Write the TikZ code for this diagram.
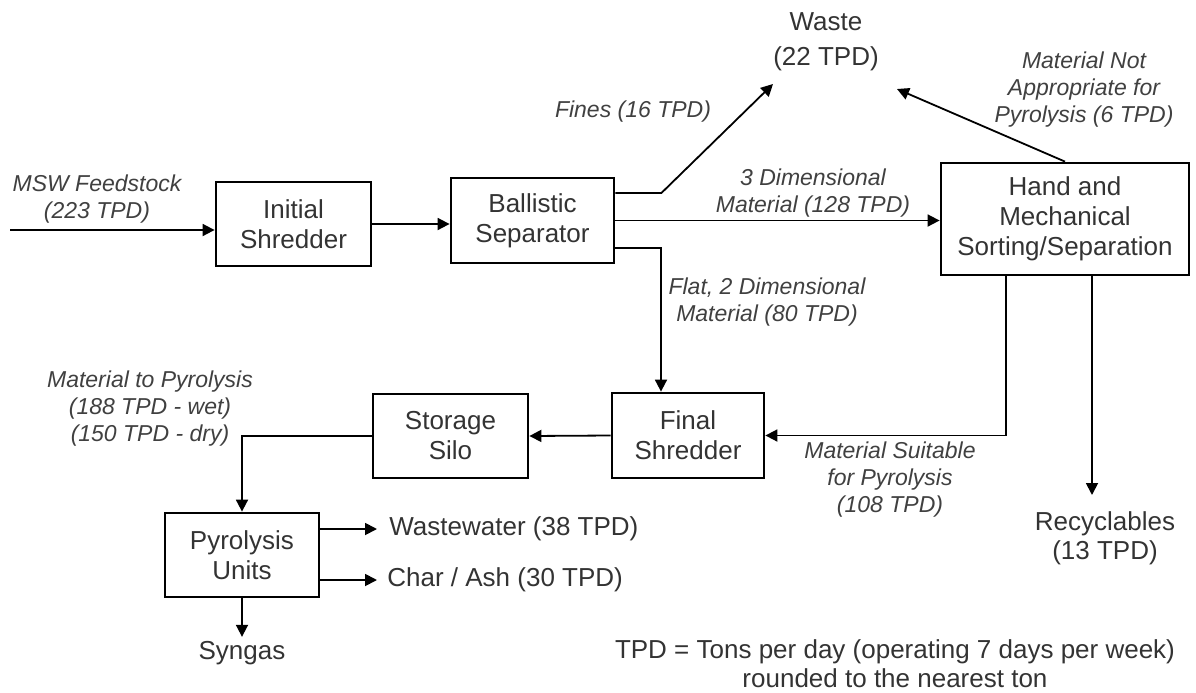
\documentclass[tikz,border=0pt]{standalone}
\usepackage{fontspec}
\setmainfont{Liberation Sans}
\usetikzlibrary{arrows.meta}
\begin{document}
\begin{tikzpicture}[x=0.5pt,y=-0.5pt,
  box/.style={draw, line width=1.4pt, inner sep=0pt, align=center,
    font=\fontsize{13}{15}\selectfont, text=black!80},
  lbl/.style={inner sep=0pt, align=center,
    font=\fontsize{11.5}{13.5}\selectfont\itshape, text=black!75},
  txt/.style={inner sep=0pt, align=center,
    font=\fontsize{13}{14.5}\selectfont, text=black!80},
  flow/.style={line width=0.9pt, -{Triangle[length=6pt,width=6pt]}}]
\useasboundingbox (0,0) rectangle (1196,692);

% process boxes
\node[box, minimum width=77.5pt, minimum height=42pt] (init) at (293.5,224) {Initial\\Shredder};
\node[box, minimum width=81.5pt, minimum height=42.5pt] (ball) at (532.5,220.5) {Ballistic\\Separator};
\node[box, minimum width=124pt, minimum height=56pt] (hand) at (1065,219) {Hand and\\Mechanical\\Sorting/Separation};
\node[box, minimum width=76pt, minimum height=42.5pt] (final) at (688,435.5) {Final\\Shredder};
\node[box, minimum width=77.5pt, minimum height=42pt] (silo) at (450.5,436) {Storage\\Silo};
\node[box, minimum width=77pt, minimum height=42pt] (pyro) at (242,555) {Pyrolysis\\Units};

% output texts
\node[txt, font=\fontsize{13}{17.5}\selectfont] (waste) at (826,42) {Waste\\(22 TPD)};
\node[txt] (rec) at (1105,538) {Recyclables\\(13 TPD)};
\node[txt, anchor=west] (ww) at (389,529) {Wastewater (38 TPD)};
\node[txt, anchor=west] (char) at (387,580) {Char / Ash (30 TPD)};
\node[txt] (syn) at (242,653) {Syngas};
\node[txt, font=\fontsize{13}{14.5}\selectfont] (note) at (895,664) {TPD = Tons per day (operating 7 days per week)\\rounded to the nearest ton};

% flow labels
\node[lbl] (lmsw) at (97,199) {MSW Feedstock\\(223 TPD)};
\node[lbl] (lfines) at (633,112) {Fines (16 TPD)};
\node[lbl] (l3d) at (813,193) {3 Dimensional\\Material (128 TPD)};
\node[lbl] (lflat) at (767,302) {Flat, 2 Dimensional\\Material (80 TPD)};
\node[lbl] (lna) at (1084,90) {Material Not\\Appropriate for\\Pyrolysis (6 TPD)};
\node[lbl] (lsuit) at (890,480) {Material Suitable\\for Pyrolysis\\(108 TPD)};
\node[lbl] (lpyro) at (150,409) {Material to Pyrolysis\\(188 TPD - wet)\\(150 TPD - dry)};

% free ends
\coordinate (msw) at (10,230);
\coordinate (fineTip) at (773,84);
\coordinate (naTip) at (897,89);
\coordinate (recTip) at (1092,495);

% connectors
\draw[flow] (msw) -- (msw -| init.west);
\draw[flow] (init.east) -- (init.east -| ball.west);
\draw[flow] ([yshift=13.75pt]ball.east) -- ++(46,0) -- (fineTip);
\draw[flow] (ball.east) -- (ball.east -| hand.west);
\draw[flow] ([yshift=-13.75pt]ball.east) -| ([xshift=-13.5pt]final.north);
\draw[flow] (hand.north) -- (naTip);
\draw[flow] ([xshift=-29.5pt]hand.south) |- (final.east);
\draw[flow] ([xshift=13.5pt]hand.south) -- (recTip);
\draw[flow] (final.west) -- (silo.east);
\draw[flow] (silo.west) -| (pyro.north);
\draw[flow] ([yshift=13pt]pyro.east) -- ([xshift=-6pt]ww.west);
\draw[flow] ([yshift=-12.5pt]pyro.east) -- ([xshift=-5pt]char.west);
\draw[flow] (pyro.south) -- ([yshift=2pt]syn.north);
\end{tikzpicture}
\end{document}
